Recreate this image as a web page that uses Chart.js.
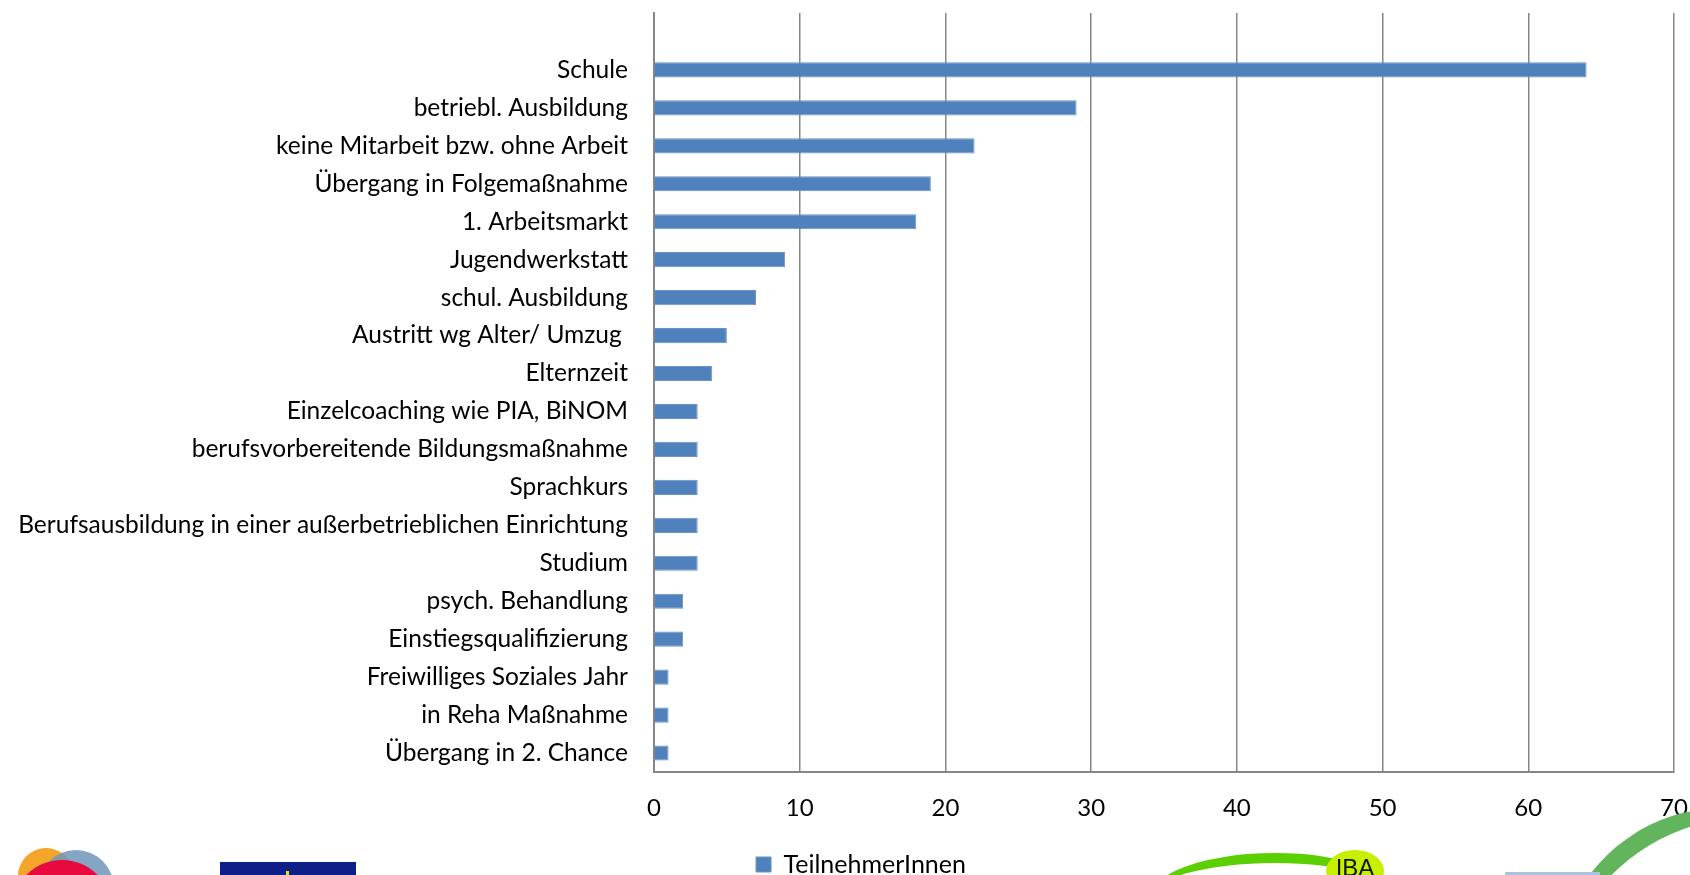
<!DOCTYPE html>
<html>
<head>
<meta charset="utf-8">
<script src="https://cdn.jsdelivr.net/npm/chart.js@4.4.1/dist/chart.umd.min.js"></script>
<style>
    html, body { margin: 0; padding: 0; background: #fff; overflow: hidden; }
    #wrap { position: relative; width: 1690px; height: 875px; overflow: hidden; }
    canvas { position: absolute; left: 0; top: 0; }
    .deco { position: absolute; }
</style>
</head>
<body>
<div id="wrap">
    <canvas id="outcomeChart" width="1690" height="875"></canvas>

    <!-- logos along the bottom edge, only partly visible -->
    <div class="deco" style="left:18px;top:848px;width:56px;height:56px;border-radius:50%;background:#f4a62a;"></div>
    <div class="deco" style="left:38px;top:850px;width:76px;height:76px;border-radius:50%;background:rgba(110,150,185,0.85);"></div>
    <div class="deco" style="left:12px;top:860px;width:100px;height:100px;border-radius:50%;background:#e8093f;"></div>
    <div class="deco" style="left:220px;top:862px;width:136px;height:30px;background:#0f1f8a;"></div>
    <div class="deco" style="left:286px;top:871px;width:3px;height:4px;background:#f5e000;"></div>
    <div class="deco" style="left:1150px;top:853px;width:250px;height:90px;border-radius:50%;border-top:10px solid #5bd000;box-sizing:border-box;"></div>
    <div class="deco" style="left:1326px;top:850px;width:58px;height:42px;border-radius:50%;background:#c6f000;font:24px 'Liberation Sans Narrow',sans-serif;text-align:center;line-height:36px;color:#111;">IBA</div>
    <div class="deco" style="left:1555px;top:820px;width:260px;height:200px;border-radius:50%;border-top:18px solid #62b55c;box-sizing:border-box;transform:rotate(-35deg);"></div>
    <div class="deco" style="left:1505px;top:872px;width:95px;height:3px;background:#a9c3e0;"></div>
</div>

<script>
// TeilnehmerInnen nach Austritt / Verbleib

const categories = [
    '',
    'Schule',
    'betriebl. Ausbildung',
    'keine Mitarbeit bzw. ohne Arbeit',
    'Übergang in Folgemaßnahme',
    '1. Arbeitsmarkt',
    'Jugendwerkstatt',
    'schul. Ausbildung',
    'Austritt wg Alter/ Umzug ',
    'Elternzeit',
    'Einzelcoaching wie PIA, BiNOM',
    'berufsvorbereitende Bildungsmaßnahme',
    'Sprachkurs',
    'Berufsausbildung in einer außerbetrieblichen Einrichtung',
    'Studium',
    'psych. Behandlung',
    'Einstiegsqualifizierung',
    'Freiwilliges Soziales Jahr',
    'in Reha Maßnahme',
    'Übergang in 2. Chance'
];

const teilnehmer = [null, 64, 29, 22, 19, 18, 9, 7, 5, 4, 3, 3, 3, 3, 3, 2, 2, 1, 1, 1];

const xTicks = [0, 10, 20, 30, 40, 50, 60, 70];

const seriesName = 'TeilnehmerInnen';

const FAMILY = 'Lato, Carlito, Calibri, sans-serif';
const GRID = '#868686';

// legend sits a bit right of centre and close to the bottom edge
const legendNudge = {
    id: 'legendNudge',
    afterLayout(chart) {
        chart.legend.left += 24;
        chart.legend.right += 24;
        chart.legend.top += 12;
        chart.legend.bottom += 12;
    }
};

const ctx = document.getElementById('outcomeChart');

new Chart(ctx, {
    type: 'bar',
    data: {
        labels: categories,
        datasets: [
            {
                label: seriesName,
                data: teilnehmer,
                backgroundColor: '#4f81bd',
                borderColor: '#6b93c6',
                borderWidth: 1,
                barPercentage: 0.4,
                categoryPercentage: 1
            }
        ]
    },
    plugins: [legendNudge],
    options: {
        indexAxis: 'y',
        responsive: false,
        animation: false,
        layout: {
            padding: { top: 13, right: 16, left: 0, bottom: 0 }
        },
        plugins: {
            legend: {
                position: 'bottom',
                labels: {
                    font: { family: FAMILY, size: 25 },
                    color: '#000',
                    boxWidth: 15,
                    boxHeight: 15,
                    padding: 10
                }
            },
            tooltip: { enabled: false }
        },
        scales: {
            x: {
                min: xTicks[0],
                max: xTicks[xTicks.length - 1],
                afterBuildTicks: function(scale) {
                    scale.ticks = xTicks.map(v => ({ value: v }));
                },
                afterFit: function(scale) {
                    scale.height = 58;
                    scale.paddingLeft = 0;
                    scale.paddingRight = 0;
                },
                ticks: {
                    font: { family: FAMILY, size: 24 },
                    color: '#000',
                    padding: 22
                },
                grid: {
                    color: GRID,
                    lineWidth: 1.5,
                    drawTicks: false
                },
                border: {
                    color: GRID,
                    width: 2
                }
            },
            y: {
                afterFit: function(scale) {
                    scale.width = 654;
                    scale.paddingTop = 0;
                    scale.paddingBottom = 0;
                },
                ticks: {
                    font: { family: FAMILY, size: 24.5 },
                    color: '#000',
                    padding: 26,
                    autoSkip: false
                },
                grid: {
                    display: false,
                    drawTicks: false
                },
                border: {
                    color: GRID,
                    width: 2
                }
            }
        }
    }
});
</script>
</body>
</html>
